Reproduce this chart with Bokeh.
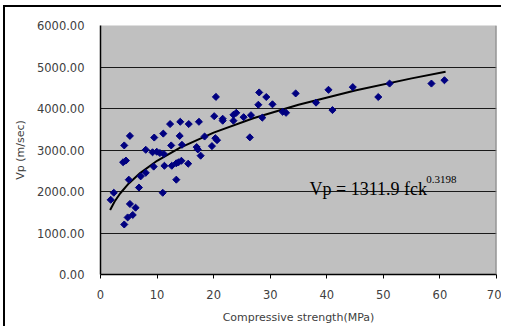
import math
from bokeh.plotting import figure
from bokeh.models import Range1d, FixedTicker, NumeralTickFormatter, Label, Span, ColumnDataSource
from bokeh.embed import file_html
from bokeh.resources import INLINE

# measured points: compressive strength (MPa) vs Vp (m/sec)
fck = [1.8, 2.35, 4.2, 4.8, 5.7, 5.2, 6.2, 5.0, 6.8, 7.1, 8.0, 11.0, 13.4, 4.0, 4.5,
       9.4, 11.3, 12.6, 13.4, 13.8, 14.3, 15.5, 4.2, 5.2, 8.0, 9.2, 9.95, 10.5, 11.2,
       9.5, 11.1, 12.5, 14.0, 14.4, 12.3, 14.1, 15.6, 17.4, 17.0, 17.2, 17.7, 18.4,
       19.7, 20.3, 20.6, 20.1, 20.4, 21.6, 21.6, 23.5, 23.5, 24.0, 25.3, 26.6, 26.4,
       27.9, 28.05, 28.6, 29.3, 30.4, 32.2, 32.8, 34.5, 38.1, 40.3, 41.0, 44.6, 49.1,
       51.1, 58.5, 60.8]
vp = [1800, 1970, 1205, 1375, 1435, 1700, 1610, 2285, 2095, 2365, 2450, 1970, 2285, 2705, 2745,
      2600, 2620, 2620, 2680, 2705, 2740, 2670, 3110, 3340, 3005, 2945, 2958, 2927, 2904,
      3300, 3395, 3110, 3340, 3125, 3625, 3680, 3625, 3680, 3070, 3015, 2863, 3325,
      3094, 3284, 3237, 3815, 4280, 3753, 3706, 3706, 3848, 3896, 3791, 3839, 3305,
      4090, 4387, 3780, 4277, 4101, 3920, 3896, 4363, 4141, 4451, 3962, 4515, 4277,
      4601, 4601, 4681]

# power trend line
trend_x = [1.7, 2.5, 3.5, 5, 7, 10, 14, 20, 27, 35, 45, 55, 61]
trend_y = [1555, 1759, 1958, 2195, 2444, 2740, 3051, 3419, 3764, 4090, 4432, 4726, 4885]

x_ticks = [0, 10, 20, 30, 40, 50, 60, 70]
y_ticks = [0, 1000, 2000, 3000, 4000, 5000, 6000]

equation_main = "Vp = 1311.9 fck"
equation_exp = "0.3198"
x_title = "Compressive strength(MPa)"
y_title = "Vp (m/sec)"

p = figure(width=501, height=326, output_backend="svg", toolbar_location=None,
           x_range=Range1d(0, 70), y_range=Range1d(0, 6000),
           min_border_left=100, min_border_top=25, min_border_right=5, min_border_bottom=49)

p.background_fill_color = "#C0C0C0"
p.border_fill_color = None
p.outline_line_color = None
# outer chart frame (left and top edges visible), drawn as CSS background behind the transparent canvas
p.styles = {
    "background": "linear-gradient(#000, #000) 3px 5px / 2px 100% no-repeat, "
                  "linear-gradient(#000, #000) 3px 5px / 100% 2px no-repeat, white"
}

p.xgrid.grid_line_color = None
p.ygrid.grid_line_color = "#1a1a1a"
p.ygrid.grid_line_width = 1
p.ygrid.ticker = FixedTicker(ticks=y_ticks)

font = "DejaVu Sans"
p.xaxis.ticker = FixedTicker(ticks=x_ticks)
p.yaxis.ticker = FixedTicker(ticks=y_ticks)
p.yaxis.formatter = NumeralTickFormatter(format="0.00")
for ax in (p.xaxis[0], p.yaxis[0]):
    ax.axis_line_color = "black"
    ax.axis_line_width = 1.5
    ax.major_tick_line_color = "black"
    ax.minor_tick_line_color = None
    ax.major_label_text_font = font
    ax.major_label_text_font_size = "11.5px"
    ax.major_label_text_color = "#404040"
    ax.axis_label_text_font = font
    ax.axis_label_text_font_size = "11px"
    ax.axis_label_text_font_style = "normal"
    ax.axis_label_text_color = "#404040"

p.xaxis.major_tick_in = 0
p.xaxis.major_tick_out = 4
p.xaxis.major_label_standoff = 11
p.xaxis.axis_label = x_title
p.xaxis.axis_label_standoff = 9

p.yaxis.major_tick_in = 0
p.yaxis.major_tick_out = 0
p.yaxis.major_label_standoff = 16
p.yaxis.axis_label = y_title
p.yaxis.axis_label_standoff = 7

# right edge of plot area
p.add_layout(Span(location=70, dimension="height", line_color="#808080", line_width=2))

p.line(trend_x, trend_y, line_color="black", line_width=2)
src = ColumnDataSource(dict(x=fck, y=vp))
p.scatter("x", "y", source=src, marker="square", angle=math.pi / 4, size=5,
          fill_color="#000080", line_color="#000080")

p.add_layout(Label(x=36.95, y=2055, text=equation_main, text_font="Liberation Serif",
                   text_font_size="18px", text_color="black", text_baseline="alphabetic"))
p.add_layout(Label(x=57.6, y=2293, text=equation_exp, text_font="Liberation Serif",
                   text_font_size="11px", text_color="black", text_baseline="alphabetic"))

open("out.html", "w").write(file_html(p, INLINE))
